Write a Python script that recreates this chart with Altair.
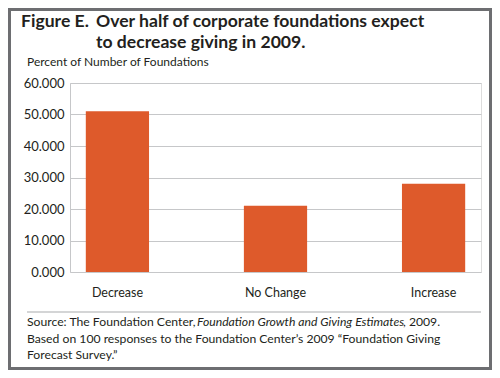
import altair as alt
import pandas as pd

# ---- data ----
categories = ["Decrease", "No Change", "Increase"]
values = [51.0, 21.0, 28.0]
y_ticks = [0, 10, 20, 30, 40, 50, 60]

title_fig = ["Figure E."]
title_line1 = ["Over half of corporate foundations expect"]
title_line2 = ["to decrease giving in 2009."]
y_title = ["Percent of Number of Foundations"]
source_a = ["Source: The Foundation Center,"]
source_b = ["Foundation Growth and Giving Estimates"]
source_c = [", 2009."]
source_line2 = ["Based on 100 responses to the Foundation Center\u2019s 2009 \u201cFoundation Giving"]
source_line3 = ["Forecast Survey.\u201d"]

FONT = "Lato"
TXT = "#231f20"
BAR = "#DE5A2B"
GRID = "#c6c7c9"

W, H = 411, 189

df = pd.DataFrame({"Category": categories, "Value": values})

bars = alt.Chart(df).mark_bar(color=BAR).encode(
    x=alt.X("Category:N", sort=categories, title=None,
            scale=alt.Scale(paddingInner=0.6, paddingOuter=0.1),
            axis=alt.Axis(labelAngle=0, labelFontSize=12.5, labelColor=TXT, labelFont=FONT,
                          ticks=False, domain=False, labelPadding=14, grid=False)),
    y=alt.Y("Value:Q", title=None,
            scale=alt.Scale(domain=[0, 60], nice=False),
            axis=alt.Axis(values=y_ticks, format=".3f", labelFontSize=13, labelColor=TXT,
                          labelFont=FONT, ticks=False, domain=True, domainColor=GRID,
                          labelPadding=6, grid=True, gridColor=GRID, gridWidth=1.2)),
)


def txt(lines, x, y, size, weight="normal", style="normal", align="left"):
    d = pd.DataFrame({"t": lines})
    return alt.Chart(d).mark_text(
        align=align, baseline="alphabetic", fontSize=size, font=FONT,
        fontWeight=weight, fontStyle=style, color=TXT
    ).encode(text="t:N", x=alt.value(x), y=alt.value(y))


TS = 17.6
SS = 12.2
t0 = txt(title_fig, -49, -56, TS, weight="bold")
t1 = txt(title_line1, 26, -56, TS, weight="bold")
t2 = txt(title_line2, 26, -35, TS, weight="bold")
ytl = txt(y_title, -43, -17, 12)
s1a = txt(source_a, -43, 243, SS)
s1b = txt(source_b, 127, 243, SS, style="italic")
s1c = txt(source_c, 333, 243, SS)
s2 = txt(source_line2, -43, 260, SS)
s3 = txt(source_line3, -43, 276, SS)

sep = alt.Chart(pd.DataFrame({"k": [0]})).mark_rule(color=GRID, strokeWidth=1.5).encode(
    x=alt.value(-43), x2=alt.value(W), y=alt.value(229))

border = alt.Chart(pd.DataFrame({"k": [0]})).mark_rect(
    fillOpacity=0, stroke="#6d6e71", strokeWidth=3).encode(
    x=alt.value(-62 + 1.5), x2=alt.value(422 - 1.5), y=alt.value(-75 + 1.5), y2=alt.value(287 - 1.5))

chart = alt.layer(bars, t0, t1, t2, ytl, sep, s1a, s1b, s1c, s2, s3, border).properties(
    width=W, height=H,
    autosize=alt.AutoSizeParams(type="none"),
    padding={"left": 62, "top": 75, "right": 11, "bottom": 98},
).configure_view(stroke=None).configure(background="white")

chart.save("out.html", embed_options={"renderer": "svg", "actions": False})
